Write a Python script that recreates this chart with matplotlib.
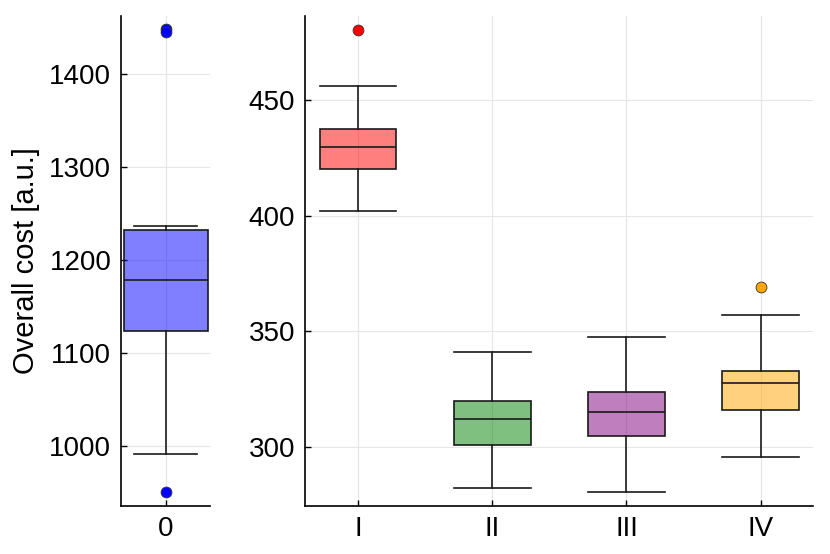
import numpy as np
import matplotlib
matplotlib.use('Agg')
import matplotlib.pyplot as plt

plt.rcParams['font.family'] = ['Liberation Sans', 'DejaVu Sans']

# baseline (left panel)
base_label = ['0']
base_q1 = [1123.5]
base_med = [1178.5]
base_q3 = [1232.0]
base_lo = [991.0]
base_hi = [1236.0]
base_fliers = [[1447.5, 1445.0, 950.5]]

# scenarios (right panel)
labels = ['I', 'II', 'III', 'IV']
q1 = [420.2, 300.9, 304.6, 316.1]
med = [429.5, 311.9, 315.1, 327.8]
q3 = [437.5, 319.9, 323.9, 332.9]
whislo = [402.0, 282.1, 280.4, 295.6]
whishi = [456.0, 341.0, 347.7, 357.0]
fliers = [[480.3], [], [], [369.1]]

Cols = {'0': 'blue', 'I': 'red', 'II': 'green', 'III': 'purple', 'IV': 'orange'}
BoxW = 0.573
FS = 20


def Stats(lbls, q1s, meds, q3s, los, his, fls):
    return [dict(label=l, q1=a, med=m, q3=b, whislo=lo, whishi=hi, fliers=f)
            for l, a, m, b, lo, hi, f in zip(lbls, q1s, meds, q3s, los, his, fls)]


def DrawBoxes(ax, stats, capw=BoxW):
    pos = np.arange(1, len(stats) + 1)
    bp = ax.bxp(stats, positions=pos, widths=BoxW, patch_artist=True,
                showcaps=True,
                boxprops=dict(linewidth=1.2, edgecolor='#1a1a1a'),
                medianprops=dict(color='#1a1a1a', linewidth=1.2),
                whiskerprops=dict(color='#1a1a1a', linewidth=1.2),
                capprops=dict(color='#1a1a1a', linewidth=1.2),
                capwidths=capw, zorder=3)
    for s, box, fl in zip(stats, bp['boxes'], bp['fliers']):
        c = Cols[s['label']]
        box.set_facecolor(matplotlib.colors.to_rgba(c, 0.5))
        fl.set_marker('o')
        fl.set_markerfacecolor(c)
        fl.set_markeredgecolor('#333333')
        fl.set_markeredgewidth(0.6)
        fl.set_markersize(7.8)
    return pos


def StyleAx(ax):
    for sp in ('top', 'right'):
        ax.spines[sp].set_visible(False)
    for sp in ('left', 'bottom'):
        ax.spines[sp].set_linewidth(1.2)
    ax.grid(True, color='#e6e6e6', linewidth=0.8, zorder=0)
    ax.set_axisbelow(True)
    ax.tick_params(direction='in', length=4, width=1.0, labelsize=FS, pad=7)


fig = plt.figure(figsize=(8.3, 5.54), dpi=100)
ax_B = fig.add_axes([121/830, 48/554, 89/830, 490/554])
ax_S = fig.add_axes([305/830, 48/554, 508/830, 490/554])

pos = DrawBoxes(ax_B, Stats(base_label, base_q1, base_med, base_q3,
                            base_lo, base_hi, base_fliers), capw=0.43)
ax_B.set_xticks(pos, base_label)
ax_B.set_xlim(0.696, 1.302)
ax_B.set_ylim(935.4, 1462)
ax_B.set_yticks([1000, 1100, 1200, 1300, 1400])
ax_B.set_ylabel('Overall cost [a.u.]', fontsize=21, labelpad=7)
StyleAx(ax_B)

pos = DrawBoxes(ax_S, Stats(labels, q1, med, q3, whislo, whishi, fliers))
ax_S.set_xticks(pos, labels)
ax_S.set_xlim(0.605, 4.39)
ax_S.set_ylim(274.5, 486.2)
ax_S.set_yticks([300, 350, 400, 450])
StyleAx(ax_S)

fig.savefig('out.png', dpi=100)
